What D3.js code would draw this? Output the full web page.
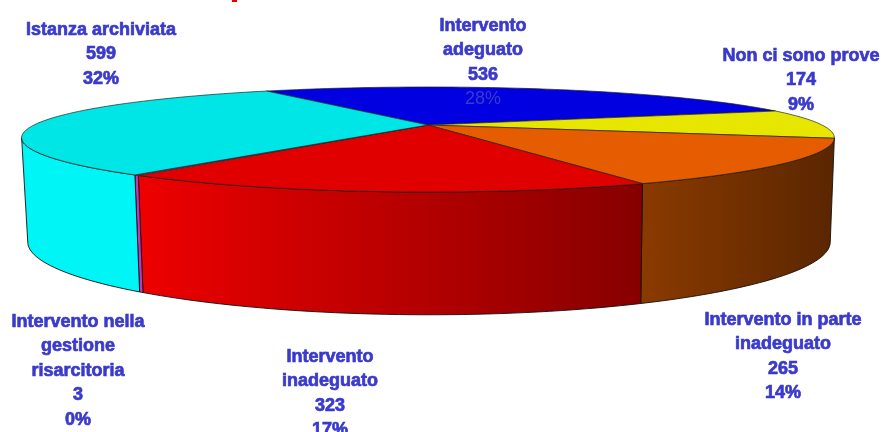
<!DOCTYPE html>
<html>
<head>
<meta charset="utf-8">
<script src="https://cdn.jsdelivr.net/npm/d3@7"></script>
<style>
  html, body { margin: 0; padding: 0; background: #fff; overflow: hidden; }
  text { font-family: "Liberation Sans", Arial, sans-serif; font-weight: bold; }
</style>
</head>
<body>
<script>
// slices clockwise, starting from the blue one at the back
const categories = ['Intervento adeguato', 'Non ci sono prove', 'Intervento in parte inadeguato',
  'Intervento inadeguato', 'Intervento nella gestione risarcitoria', 'Istanza archiviata'];
const values = [536, 174, 265, 323, 3, 599];
const percents = ['28%', '9%', '14%', '17%', '0%', '32%'];

// wrapped the way the labels are wrapped in the picture
const labelLines = [
  ['Intervento', 'adeguato'],
  ['Non ci sono prove'],
  ['Intervento in parte', 'inadeguato'],
  ['Intervento', 'inadeguato'],
  ['Intervento nella', 'gestione', 'risarcitoria'],
  ['Istanza archiviata']
];

// layout, not data
const topColors = ['#0000e0', '#e6e600', '#e65c00', '#e00000', '#cc33bb', '#00e6e6'];
const wallColors = [null, null, ['#8a3a00', '#5a2600'], ['#ee0000', '#860000'], ['#cc33bb', '#cc33bb'], ['#00f6f6', '#00f6f6']];
const labelX = [483, 801, 783, 330, 78, 101];
const labelY = [25, 55, 319, 356, 321, 29];
const lineStep = 24.4;

const width = 882,
  height = 432;

// the pie is seen in perspective, k is how much the back shrinks
const k = 0.276,
  kx = 0.245;
const topDisc = { cx: 428, cy: 125, rx: 394, ry: 48.5 };
const bottomDisc = { cx: 429, cy: 225, rx: 389, ry: 65 };

function project(angle, disc) {
  let X = Math.sin(angle),
    Y = Math.cos(angle);
  return [disc.cx + disc.rx * X / (1 + kx * Y), disc.cy - disc.ry * Y / (1 + k * Y)];
}

// points along the rim between two angles
function rim(a0, a1, disc) {
  let n = Math.max(2, Math.ceil(Math.abs(a1 - a0) * 40));
  return d3.range(n + 1).map(function(i) {
    return project(a0 + (a1 - a0) * i / n, disc);
  });
}

const line = d3.line();
const svg = d3.select('body').append('svg')
  .attr('width', width)
  .attr('height', height);

const pie = d3.pie()
  .value(function(d) { return d; })
  .sort(null)
  .startAngle(-0.52)
  .endAngle(-0.52 + 2 * Math.PI);
const arcs = pie(values);

// side wall only exists between the two widest points of the rim
const wallStart = Math.PI / 2 + Math.asin(kx);
const wallEnd = 2 * Math.PI - Math.PI / 2 - Math.asin(kx);

const defs = svg.append('defs');

// labels look soft in the original, it is an upscaled bitmap
defs.append('filter')
  .attr('id', 'soft')
  .append('feGaussianBlur')
  .attr('stdDeviation', 0.4);

arcs.forEach(function(d, i) {
  if (!wallColors[i]) return;
  let x0 = project(Math.max(d.startAngle, wallStart), topDisc)[0],
    x1 = project(Math.min(d.endAngle, wallEnd), topDisc)[0];
  let grad = defs.append('linearGradient')
    .attr('id', 'wall' + i)
    .attr('gradientUnits', 'userSpaceOnUse')
    .attr('x1', Math.min(x0, x1))
    .attr('x2', Math.max(x0, x1))
    .attr('y1', 0)
    .attr('y2', 0);
  grad.append('stop').attr('offset', 0).attr('stop-color', wallColors[i][0]);
  grad.append('stop').attr('offset', 1).attr('stop-color', wallColors[i][1]);
});

// walls first
svg.append('g').selectAll('path')
  .data(arcs.filter(function(d, i) { return wallColors[i]; }))
  .enter()
  .append('path')
  .attr('d', function(d) {
    let a0 = Math.max(d.startAngle, wallStart),
      a1 = Math.min(d.endAngle, wallEnd);
    return line(rim(a0, a1, topDisc).concat(rim(a1, a0, bottomDisc))) + 'Z';
  })
  .attr('fill', function(d) { return 'url(#wall' + d.index + ')'; })
  .attr('stroke', '#111')
  .attr('stroke-width', 0.9)
  .attr('stroke-linejoin', 'round');

// top face
svg.append('g').selectAll('path')
  .data(arcs)
  .enter()
  .append('path')
  .attr('d', function(d) {
    return line([[topDisc.cx, topDisc.cy]].concat(rim(d.startAngle, d.endAngle, topDisc))) + 'Z';
  })
  .attr('fill', function(d) { return topColors[d.index]; })
  .attr('stroke', '#222')
  .attr('stroke-width', 0.7)
  .attr('stroke-linejoin', 'round');

// what is left of the cut off title
svg.append('rect')
  .attr('x', 232)
  .attr('y', 0)
  .attr('width', 5)
  .attr('height', 2)
  .attr('fill', '#e00000');

// labels: name lines, value, percent
const labels = svg.append('g').selectAll('text')
  .data(categories)
  .enter()
  .append('text')
  .attr('text-anchor', 'middle')
  .attr('font-size', 18)
  .attr('fill', '#3a3acc')
  .attr('stroke', '#3a3acc')
  .attr('stroke-width', 0.7)
  .attr('filter', 'url(#soft)');

labels.each(function(d, i) {
  let rows = labelLines[i].concat([String(values[i]), percents[i]]);
  d3.select(this).selectAll('tspan')
    .data(rows)
    .enter()
    .append('tspan')
    .attr('x', labelX[i])
    .attr('y', function(r, j) { return labelY[i] + 6 + j * lineStep; })
    // the 28% sits on the blue slice and is drawn thin
    .style('font-weight', function(r) { return r === '28%' ? 'normal' : null; })
    .style('stroke-width', function(r) { return r === '28%' ? 0 : null; })
    .text(function(r) { return r; });
});
</script>
</body>
</html>
